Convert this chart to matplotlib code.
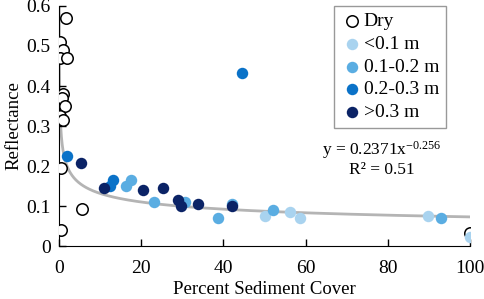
import matplotlib.pyplot as plt
import numpy as np

plt.rcParams['font.family'] = ['Liberation Serif', 'DejaVu Serif']
plt.rcParams['mathtext.fontset'] = 'custom'
plt.rcParams['mathtext.rm'] = 'Liberation Serif'
plt.rcParams['mathtext.it'] = 'Liberation Serif:italic'

# dry sites
dry_x = [1.7, 0.2, 1.0, 0.2, 2.0, 1.0, 0.8, 1.5, 0.2, 1.0, 0.5, 5.6, 0.5, 100]
dry_y = [0.570, 0.51, 0.49, 0.47, 0.47, 0.38, 0.37, 0.35, 0.325, 0.315, 0.195, 0.092, 0.04, 0.032]

# water depth classes
lt01_x = [50.0, 56.2, 58.6, 89.8, 100]
lt01_y = [0.074, 0.084, 0.071, 0.076, 0.023]

d12_x = [16.3, 17.5, 23.1, 30.7, 38.7, 42.0, 52.0, 93.0]
d12_y = [0.150, 0.165, 0.111, 0.109, 0.071, 0.104, 0.089, 0.071]

d23_x = [1.9, 13.1, 12.4, 44.5]
d23_y = [0.225, 0.165, 0.150, 0.433]

gt03_x = [5.4, 11.0, 20.4, 25.3, 29.0, 29.7, 33.8, 42.0]
gt03_y = [0.207, 0.144, 0.140, 0.144, 0.116, 0.100, 0.104, 0.099]

fit_a = 0.2371
fit_b = -0.256

fig = plt.figure(figsize=(4.84, 2.99), dpi=100)
ax = fig.add_axes([0.122, 0.177, 0.849, 0.803])

xf = np.linspace(0.02, 100, 2000)
ax.plot(xf, fit_a * xf ** fit_b, color="#b4b4b4", lw=2, zorder=1)

ms = 68
ax.scatter(dry_x, dry_y, s=ms, facecolor="white", edgecolor="black", lw=1.1, label="Dry", zorder=3)
ax.scatter(lt01_x, lt01_y, s=ms, color="#a9d3ef", lw=0, label="<0.1 m", zorder=3)
ax.scatter(d12_x, d12_y, s=ms, color="#5aade2", lw=0, label="0.1-0.2 m", zorder=3)
ax.scatter(d23_x, d23_y, s=ms, color="#0a72c8", lw=0, label="0.2-0.3 m", zorder=3)
ax.scatter(gt03_x, gt03_y, s=ms, color="#0b2366", lw=0, label=">0.3 m", zorder=3)

ax.set_xlim(0, 100)
ax.set_ylim(0, 0.6)
ax.set_xticks([0, 20, 40, 60, 80, 100])
ax.set_yticks([0, 0.1, 0.2, 0.3, 0.4, 0.5, 0.6])
ax.set_yticklabels(["0", "0.1", "0.2", "0.3", "0.4", "0.5", "0.6"])
ax.tick_params(direction="in", length=5, labelsize=14, width=1)
ax.tick_params(axis="x", pad=10)
ax.tick_params(axis="y", pad=6)
for s in ["top", "right"]:
    ax.spines[s].set_visible(False)
ax.set_xlabel("Percent Sediment Cover", fontsize=13.5, labelpad=3)
ax.set_ylabel("Reflectance", fontsize=13.5, labelpad=3)

leg = ax.legend(loc="upper right", bbox_to_anchor=(0.942, 1.0), fontsize=14,
                frameon=True, fancybox=False, edgecolor="#808080",
                handletextpad=0.0, borderpad=0.35, labelspacing=0.26,
                handlelength=1.2, borderaxespad=0.0)
leg.get_frame().set_linewidth(1)

ax.text(0.785, 0.40, "y = 0.2371x$^{-0.256}$", transform=ax.transAxes,
        ha="center", va="center", fontsize=12.5)
ax.text(0.785, 0.315, "R² = 0.51", transform=ax.transAxes,
        ha="center", va="center", fontsize=12.5)

fig.savefig("out.png", dpi=100)
